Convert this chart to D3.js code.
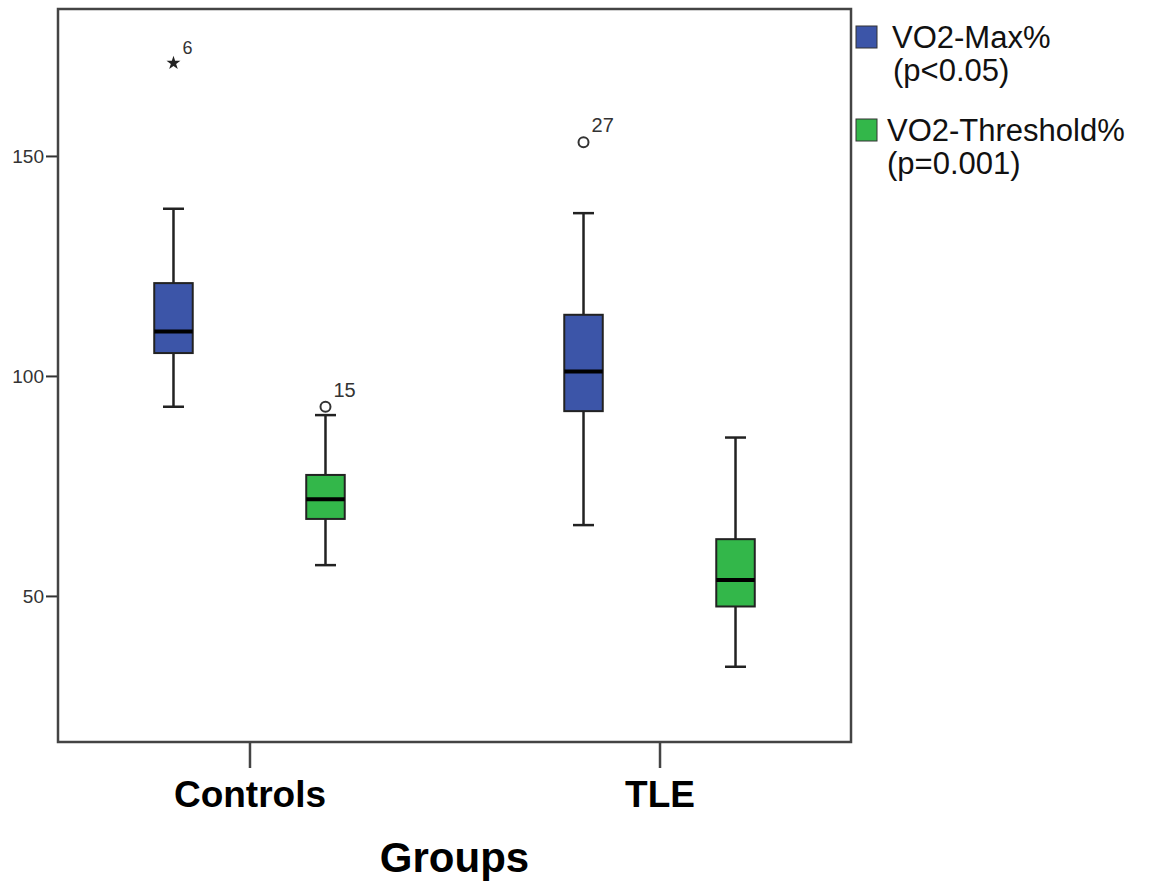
<!DOCTYPE html>
<html>
<head>
<meta charset="utf-8">
<script src="https://cdn.jsdelivr.net/npm/d3@7"></script>
<style>
  body { margin: 0; background: #fff; }
  svg { display: block; font-family: "Liberation Sans", Arial, sans-serif; }
</style>
</head>
<body>
<svg id="chart" width="1149" height="884"></svg>
<script>
// data
var groups = ["Controls", "TLE"];
var series = ["VO2-Max%", "VO2-Threshold%"];
var seriesNotes = ["(p<0.05)", "(p=0.001)"];
var seriesColors = ["#3c55a8", "#33b74a"];
var yTicks = [50, 100, 150];

// box stats per group (Controls, TLE)
var maxLow    = [93.0, 66.1];
var maxQ1     = [105.2, 92.0];
var maxMedian = [110.1, 101.0];
var maxQ3     = [121.1, 113.9];
var maxHigh   = [138.0, 137.0];

var thrLow    = [57.0, 33.9];
var thrQ1     = [67.5, 47.6];
var thrMedian = [72.0, 53.6];
var thrQ3     = [77.5, 62.9];
var thrHigh   = [91.1, 86.0];

var outGroup  = ["Controls", "Controls", "TLE"];
var outSeries = ["VO2-Max%", "VO2-Threshold%", "VO2-Max%"];
var outValue  = [171.1, 93.0, 153.1];
var outLabel  = ["6", "15", "27"];
var outShape  = ["star", "circle", "circle"];

var boxes = [];
groups.forEach(function(g, i) {
    boxes.push({group: g, series: series[0], low: maxLow[i], q1: maxQ1[i], med: maxMedian[i], q3: maxQ3[i], high: maxHigh[i]});
    boxes.push({group: g, series: series[1], low: thrLow[i], q1: thrQ1[i], med: thrMedian[i], q3: thrQ3[i], high: thrHigh[i]});
});
var outliers = outValue.map(function(v, i) {
    return {group: outGroup[i], series: outSeries[i], value: v, label: outLabel[i], shape: outShape[i]};
});

var plotLeft = 58, plotRight = 851, plotTop = 9, plotBottom = 742;

var svg = d3.select("#chart");

var x = d3.scalePoint().domain(groups).range([plotLeft, plotRight]).padding(0.467);
var xs = d3.scaleBand().domain(series).range([-152, 152]);
var y = d3.scaleLinear().domain([16.8, 183.4]).range([plotBottom, plotTop]);
var color = d3.scaleOrdinal().domain(series).range(seriesColors);

var boxW = 38.5, capW = 21;
function cx(d) { return x(d.group) + xs(d.series) + xs.bandwidth() / 2; }

// y axis
var yAxis = svg.append("g")
    .attr("transform", "translate(" + plotLeft + ",0)")
    .call(d3.axisLeft(y).tickValues(yTicks).tickSize(12).tickPadding(2));
yAxis.select(".domain").remove();
yAxis.selectAll("line").attr("stroke", "#333").attr("stroke-width", 2);
yAxis.selectAll("text").attr("font-size", 19).attr("fill", "#333")
    .attr("font-family", "Liberation Sans, Arial, sans-serif");

// x axis
var xAxis = svg.append("g")
    .attr("transform", "translate(0," + plotBottom + ")")
    .call(d3.axisBottom(x).tickSize(26).tickPadding(13));
xAxis.select(".domain").remove();
xAxis.selectAll("line").attr("stroke", "#444").attr("stroke-width", 2.5);
xAxis.selectAll("text").attr("font-size", 37).attr("font-weight", "bold").attr("fill", "#000")
    .attr("font-family", "Liberation Sans, Arial, sans-serif");

// frame
svg.append("rect")
    .attr("x", plotLeft).attr("y", plotTop)
    .attr("width", plotRight - plotLeft).attr("height", plotBottom - plotTop)
    .attr("fill", "none").attr("stroke", "#444").attr("stroke-width", 2.5);

// boxes
var b = svg.append("g").selectAll("g").data(boxes).enter().append("g");
b.append("line")
    .attr("x1", cx).attr("x2", cx)
    .attr("y1", function(d) { return y(d.high); })
    .attr("y2", function(d) { return y(d.low); })
    .attr("stroke", "#222").attr("stroke-width", 2.5);
b.append("line")
    .attr("x1", function(d) { return cx(d) - capW / 2; })
    .attr("x2", function(d) { return cx(d) + capW / 2; })
    .attr("y1", function(d) { return y(d.high); })
    .attr("y2", function(d) { return y(d.high); })
    .attr("stroke", "#222").attr("stroke-width", 2.5);
b.append("line")
    .attr("x1", function(d) { return cx(d) - capW / 2; })
    .attr("x2", function(d) { return cx(d) + capW / 2; })
    .attr("y1", function(d) { return y(d.low); })
    .attr("y2", function(d) { return y(d.low); })
    .attr("stroke", "#222").attr("stroke-width", 2.5);
b.append("rect")
    .attr("x", function(d) { return cx(d) - boxW / 2; })
    .attr("y", function(d) { return y(d.q3); })
    .attr("width", boxW)
    .attr("height", function(d) { return y(d.q1) - y(d.q3); })
    .attr("fill", function(d) { return color(d.series); })
    .attr("stroke", "#222").attr("stroke-width", 2);
b.append("line")
    .attr("x1", function(d) { return cx(d) - boxW / 2; })
    .attr("x2", function(d) { return cx(d) + boxW / 2; })
    .attr("y1", function(d) { return y(d.med); })
    .attr("y2", function(d) { return y(d.med); })
    .attr("stroke", "#000").attr("stroke-width", 4);

// outliers
var o = svg.append("g").selectAll("g").data(outliers).enter().append("g")
    .attr("transform", function(d) { return "translate(" + cx(d) + "," + y(d.value) + ")"; });
o.filter(function(d) { return d.shape == "circle"; }).append("circle")
    .attr("r", 5).attr("fill", "none").attr("stroke", "#333").attr("stroke-width", 2);
o.filter(function(d) { return d.shape == "star"; }).append("path")
    .attr("d", d3.symbol().type(d3.symbolStar).size(60))
    .attr("fill", "#222");
o.append("text")
    .attr("x", function(d) { return d.shape == "star" ? 9 : 8; })
    .attr("y", function(d) { return d.shape == "star" ? -9 : -10; })
    .attr("font-size", function(d) { return d.shape == "star" ? 18 : 20; })
    .attr("fill", "#333")
    .text(function(d) { return d.label; });

// axis title
svg.append("text")
    .attr("x", (x(groups[0]) + x(groups[1])) / 2).attr("y", 872)
    .attr("text-anchor", "middle")
    .attr("font-size", 42).attr("font-weight", "bold")
    .text("Groups");

// legend
var legY = [26, 119];
var leg = svg.append("g").selectAll("g").data(series).enter().append("g")
    .attr("transform", function(d, i) { return "translate(856," + legY[i] + ")"; });
leg.append("rect")
    .attr("width", 21).attr("height", 22)
    .attr("fill", function(d) { return color(d); })
    .attr("stroke", "#333").attr("stroke-width", 1);
leg.append("text")
    .attr("x", function(d, i) { return i == 0 ? 36 : 31; }).attr("y", 22)
    .attr("font-size", 31).attr("fill", "#111")
    .text(function(d) { return d; });
leg.append("text")
    .attr("x", function(d, i) { return i == 0 ? 37 : 31; }).attr("y", 55)
    .attr("font-size", 31).attr("fill", "#111")
    .text(function(d, i) { return seriesNotes[i]; });
</script>
</body>
</html>
